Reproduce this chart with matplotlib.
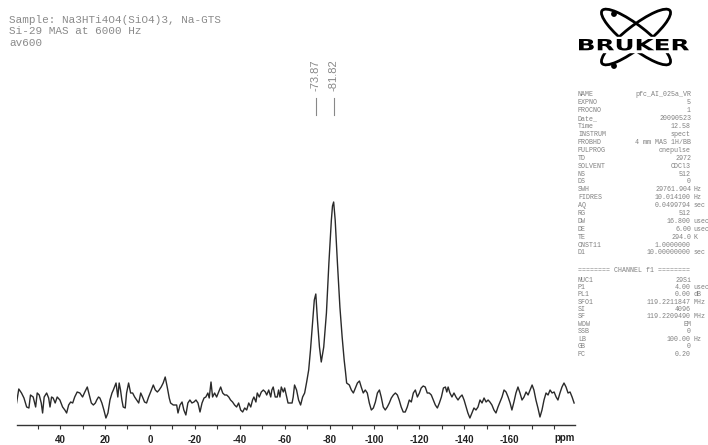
import matplotlib
matplotlib.use('Agg')
import matplotlib.pyplot as plt
from matplotlib.patches import Ellipse, Circle, PathPatch, Rectangle
from matplotlib.textpath import TextPath
from matplotlib.font_manager import FontProperties
from matplotlib.transforms import Affine2D, blended_transform_factory

W, H = 708, 445  # px

# spectrum: chemical shift (ppm) and intensity (a.u.)
shift_ppm = [
    59.4, 58.4, 57.2, 56.1, 54.9, 53.9, 53.2, 52.0, 50.9, 50.2, 49.3, 48.4, 47.8, 47.1,
    46.0, 45.1, 44.5, 43.8, 43.1, 42.2, 41.3, 40.1, 38.9, 37.9, 37.1, 36.2, 35.3, 34.4,
    33.5, 32.4, 31.2, 30.0, 29.0, 27.9, 27.0, 26.1, 25.2, 24.3, 23.7, 22.9, 22.3, 21.4,
    20.5, 19.6, 18.7, 17.8, 16.9, 16.3, 15.1, 14.3, 13.7, 13.1, 12.5, 11.9, 11.0, 10.4,
    9.5, 8.6, 7.7, 6.8, 5.9, 5.0, 4.1, 3.3, 2.4, 1.5, 0.6, -0.3, -1.5, -2.4, -3.3, -4.1,
    -5.0, -5.9, -6.8, -7.7, -8.6, -9.2, -10.4, -11.9, -12.5, -13.4, -14.3, -15.1, -16.0,
    -16.9, -17.8, -18.7, -19.6, -20.5, -21.4, -22.3, -23.2, -24.1, -24.9, -25.8, -26.4,
    -27.2, -27.9, -28.8, -29.7, -30.6, -31.5, -32.4, -33.3, -34.2, -35.1, -35.9, -36.8,
    -37.7, -38.6, -39.5, -40.4, -41.3, -42.2, -43.1, -44.0, -44.9, -45.7, -46.3, -47.2,
    -47.8, -48.7, -49.6, -50.5, -51.4, -52.0, -52.9, -53.8, -54.3, -54.9, -55.8, -56.7,
    -57.3, -57.9, -58.5, -59.4, -60.0, -60.9, -61.5, -62.4, -63.3, -63.8, -64.4, -65.3,
    -66.2, -67.1, -68.0, -68.9, -69.8, -70.7, -71.5, -72.5, -73.2, -73.87, -74.6, -75.5,
    -76.3, -77.4, -78.6, -79.7, -80.8, -81.3, -81.82, -82.5, -83.5, -84.6, -85.6, -86.5,
    -87.1, -87.6, -88.8, -89.7, -90.6, -91.5, -92.4, -93.3, -94.1, -95.0, -95.9, -96.8,
    -97.7, -98.6, -99.5, -100.4, -101.3, -102.2, -103.0, -103.9, -104.8, -105.7, -106.6,
    -107.5, -108.4, -109.3, -110.2, -111.0, -111.9, -112.8, -113.7, -114.6, -115.5,
    -116.4, -117.3, -118.2, -119.1, -120.0, -120.8, -121.7, -122.6, -123.5, -124.4,
    -125.3, -126.2, -127.1, -128.0, -128.9, -129.8, -130.7, -131.6, -132.2, -132.8,
    -133.6, -134.5, -135.4, -136.3, -137.2, -138.1, -139.0, -139.9, -140.8, -141.6,
    -142.5, -143.4, -144.3, -145.2, -146.1, -147.0, -147.9, -148.8, -149.7, -150.6,
    -151.4, -152.3, -153.2, -154.1, -155.0, -155.9, -156.8, -157.7, -158.6, -159.5,
    -160.4, -161.2, -162.1, -163.0, -163.9, -164.8, -165.7, -166.6, -167.5, -168.4,
    -169.3, -170.2, -171.0, -171.9, -172.8, -173.7, -174.6, -175.5, -176.4, -177.3,
    -178.2, -179.1, -180.0, -180.9, -181.7, -182.6, -183.5, -184.4, -185.3, -186.2,
    -187.1, -188.0, -188.9,
]
intensity = [
    -3, 11, 7, 2, -7, -8, 5, 3, -7, 7, 5, -3, -13, 3,
    7, 2, -7, 3, 2, -3, 3, 0, -7, -10, -13, -5, -2, -3,
    3, 8, 7, 3, 8, 13, 5, -3, -5, -3, 0, 3, 2, -3,
    -10, -18, -13, 0, 7, 10, 17, 3, 17, 10, 0, -7, -8, 7,
    17, 7, 7, 3, 0, -3, 7, 3, -2, -3, 3, 8, 15, 10, 8, 10,
    13, 17, 23, 13, 2, -3, -5, -5, -13, -5, -2, -10, -15,
    -3, 0, -3, -2, 0, -3, -12, -3, 2, 3, 7, 2,
    18, 3, 7, 3, 8, 13, 7, 5, 5, 3, 0, -2,
    -5, -7, -3, -10, -12, -8, -10, -3, -7, 0, 3, -2,
    7, 3, 8, 10, 8, 5, 10, 3, 10, 13, 3, 3,
    10, 3, 13, 8, 12, 3, -3, -3, -3, 3, 15, 10,
    0, -5, 3, 7, 18, 30, 50, 80, 100, 106, 80, 53,
    38, 53, 87, 137, 180, 194, 198, 180, 137, 93, 63, 40,
    28, 17, 15, 10, 7, 12, 17, 19, 13, 7, 10, 7,
    -3, -10, -8, -2, 7, 10, 3, -7, -10, -7, -3,
    2, 5, 7, 5, 0, -7, -12, -12, -7, 0,
    -2, 7, 10, 3, 7, 12, 14, 13, 7, 7,
    5, 0, -5, -8, -3, 3, 12, 13, 8, 13,
    7, 3, 7, 3, 0, 3, 5, 0, -7, -13,
    -18, -13, -8, -10, -7, 0, -3, 2, -2, 0,
    -2, -5, -10, -13, -7, -2, 3, 10, 8, 3,
    -3, -10, -2, 7, 13, 7, 0, 3, 8, 5,
    10, 15, 10, 0, -8, -17, -10, 0, 7, 5,
    10, 7, 8, 3, 0, 7, 13, 17, 13, 7,
    8, 3, -3,
]

tick_values = [40, 20, 0, -20, -40, -60, -80, -100, -120, -140, -160, -180]
tick_labels = ['40', '20', '0', '-20', '-40', '-60', '-80', '-100', '-120', '-140', '-160', '']
minor_ticks = [50, 30, 10, -10, -30, -50, -70, -90, -110, -130, -150, -170]

peak_labels = [-73.87, -81.82]

header_lines = [
    'Sample: Na3HTi4O4(SiO4)3, Na-GTS',
    'Si-29 MAS at 6000 Hz',
    'av600',
]

acq_params = [
    ('NAME', 'pfc_AI_025a_VR', ''),
    ('EXPNO', '5', ''),
    ('PROCNO', '1', ''),
    ('Date_', '20090523', ''),
    ('Time', '12.58', ''),
    ('INSTRUM', 'spect', ''),
    ('PROBHD', '4 mm MAS 1H/BB', ''),
    ('PULPROG', 'onepulse', ''),
    ('TD', '2972', ''),
    ('SOLVENT', 'CDCl3', ''),
    ('NS', '512', ''),
    ('DS', '0', ''),
    ('SWH', '29761.904', 'Hz'),
    ('FIDRES', '10.014100', 'Hz'),
    ('AQ', '0.0499794', 'sec'),
    ('RG', '512', ''),
    ('DW', '16.800', 'usec'),
    ('DE', '6.00', 'usec'),
    ('TE', '294.0', 'K'),
    ('CNST11', '1.0000000', ''),
    ('D1', '10.00000000', 'sec'),
]
chan_params = [
    ('NUC1', '29Si', ''),
    ('P1', '4.00', 'usec'),
    ('PL1', '0.00', 'dB'),
    ('SFO1', '119.2211847', 'MHz'),
    ('SI', '4096', ''),
    ('SF', '119.2209490', 'MHz'),
    ('WDW', 'EM', ''),
    ('SSB', '0', ''),
    ('LB', '100.00', 'Hz'),
    ('GB', '0', ''),
    ('PC', '0.20', ''),
]

fig = plt.figure(figsize=(W / 100, H / 100), dpi=100)
fig.patch.set_facecolor('white')

# main spectrum axes
ax = fig.add_axes([17 / W, 20 / H, 558 / W, 375 / H])
ax.plot(shift_ppm, intensity, color='#2a2a2a', lw=1.0)
ax.set_xlim(59.2, -189.3)
ax.set_ylim(-25, 350)
for s in ['top', 'left', 'right']:
    ax.spines[s].set_visible(False)
ax.spines['bottom'].set_color('#333333')
ax.spines['bottom'].set_linewidth(1.0)
ax.set_yticks([])
ax.set_xticks(tick_values)
ax.set_xticklabels(tick_labels, fontsize=7, fontweight='bold', family='Liberation Sans', color='#222222')
ax.set_xticks(minor_ticks, minor=True)
ax.tick_params(axis='x', which='both', direction='out', length=3, width=0.8, color='#333333', pad=4)
ax.text(-184.5, -0.034, 'ppm', transform=blended_transform_factory(ax.transData, ax.transAxes),
        ha='center', va='center', fontsize=7, fontweight='bold', family='Liberation Sans', color='#222222')

# peak labels
for p in peak_labels:
    ax.plot([p, p], [285, 302], color='#888888', lw=0.8)
    ax.text(p, 309, f'{p:.2f}', rotation=90, ha='center', va='bottom', fontsize=8,
            family='Liberation Sans', color='#888888')

# header
for i, line in enumerate(header_lines):
    fig.text(9 / W, 1 - (20 + i * 11.3) / H, line, ha='left', va='center', fontsize=7.9,
             family='Liberation Mono', color='#8a8a8a')

# parameter table
pfont = dict(fontsize=4.8, family='Liberation Mono', color='#808080', va='center')
for i, (k, v, u) in enumerate(acq_params):
    y = 1 - (95 + i * 7.9) / H
    fig.text(578 / W, y, k, ha='left', **pfont)
    fig.text(691 / W, y, v, ha='right', **pfont)
    if u:
        fig.text(693.5 / W, y, u, ha='left', **pfont)
fig.text(578 / W, 1 - 271 / H, '======== CHANNEL f1 ========', ha='left', **pfont)
for i, (k, v, u) in enumerate(chan_params):
    y = 1 - (280 + i * 7.4) / H
    fig.text(578 / W, y, k, ha='left', **pfont)
    fig.text(691 / W, y, v, ha='right', **pfont)
    if u:
        fig.text(693.5 / W, y, u, ha='left', **pfont)

# Bruker logo, drawn in pixel units
lax = fig.add_axes([575 / W, 1 - 72 / H, 120 / W, 72 / H])
lax.set_xlim(575, 695)
lax.set_ylim(72, 0)
lax.axis('off')
for ang in (38, -38):
    lax.add_patch(Ellipse((636, 37), 86, 22, angle=ang, fill=False, lw=2.0, ec='black'))
lax.add_patch(Circle((614, 14), 2.2, color='black'))
lax.add_patch(Circle((614, 66), 2.2, color='black'))
lax.add_patch(Rectangle((577, 37), 113, 15, color='white', zorder=3))
tp = TextPath((0, 0), 'BRUKER', size=12, prop=FontProperties(family='DejaVu Sans', weight='bold'))
ext = tp.get_extents()
sx = 110 / ext.width
sy = 11.5 / ext.height
tr = Affine2D().translate(-ext.x0, -ext.y0).scale(sx, -sy).translate(579, 50.5)
lax.add_patch(PathPatch(tr.transform_path(tp), color='black', lw=0, zorder=4))

fig.savefig('out.png', dpi=100)
